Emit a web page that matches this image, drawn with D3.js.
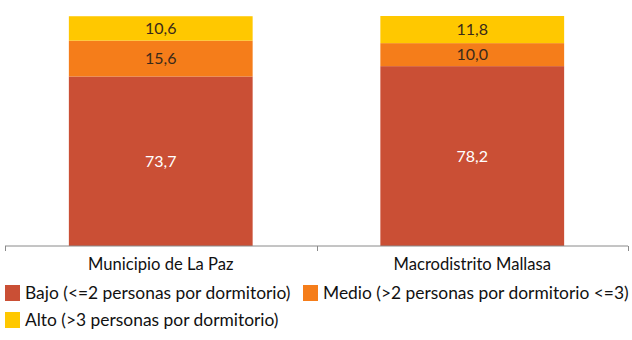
<!DOCTYPE html>
<html><head><meta charset="utf-8">
<script src="https://cdn.jsdelivr.net/npm/d3@7"></script>
<style>body{margin:0;background:#fff}svg{display:block}text{font-family:Lato,"Open Sans",sans-serif}</style>
</head><body><svg id="c" width="632" height="340"></svg>
<script>
const categories = ["Municipio de La Paz", "Macrodistrito Mallasa"];
const seriesNames = ["Bajo (<=2 personas por dormitorio)", "Medio (>2 personas por dormitorio <=3)", "Alto (>3 personas por dormitorio)"];
const bajo = [73.7, 78.2];
const medio = [15.6, 10.0];
const alto = [10.6, 11.8];
const colors = ["#CA4F35", "#F57D1A", "#FFC800"];
const textColors = ["#ffffff", "#3a2a1a", "#3a2a1a"];

const svg = d3.select("#c");
const x = d3.scaleBand().domain(categories).range([5, 628]).paddingInner(0.41).paddingOuter(0.205);
const y = d3.scaleLinear().domain([0, 100]).range([246, 16]);

const rows = categories.map((c, i) => ({cat: c, v: [bajo[i], medio[i], alto[i]]}));
const stacked = d3.stack().keys([0,1,2]).value((d, k) => d.v[k])(rows);

stacked.forEach((layer, k) => {
  const g = svg.append("g");
  g.selectAll("rect").data(layer).join("rect")
    .attr("x", d => x(d.data.cat)).attr("width", x.bandwidth())
    .attr("y", d => y(d[1])).attr("height", d => y(d[0]) - y(d[1]))
    .attr("fill", colors[k]);
  g.selectAll("text").data(layer).join("text")
    .attr("x", d => x(d.data.cat) + x.bandwidth()/2)
    .attr("y", d => (y(d[0]) + y(d[1]))/2)
    .attr("dy", "0.36em").attr("text-anchor", "middle")
    .attr("font-size", 16).attr("fill", textColors[k])
    .text(d => d3.format(".1f")(d.data.v[k]).replace(".", ","));
});

// axis
const ax = svg.append("g").attr("transform", "translate(0,246)");
ax.append("line").attr("x1", 5).attr("x2", 628).attr("stroke", "#8a8a8a").attr("stroke-width", 1);
[0,1,2].forEach(i => {
  const xx = Math.round(5 + i * (623/2)) + 0.5;
  ax.append("line").attr("x1", xx).attr("x2", xx).attr("y1", 0).attr("y2", 5).attr("stroke", "#8a8a8a");
});
ax.selectAll("text.cat").data(categories).join("text").attr("class","cat")
  .attr("x", d => x(d) + x.bandwidth()/2).attr("y", 18).attr("dy", "0.36em")
  .attr("text-anchor", "middle").attr("font-size", 16.6).attr("fill", "#111").text(d => d);

// legend
const legPos = [[5, 285], [303, 285], [5, 312]];
seriesNames.forEach((n, k) => {
  const g = svg.append("g").attr("transform", `translate(${legPos[k][0]},${legPos[k][1]})`);
  g.append("rect").attr("width", 15).attr("height", 16).attr("fill", colors[k]);
  g.append("text").attr("x", 20).attr("y", 8).attr("dy", "0.36em").attr("font-size", 17.4).attr("fill", "#111").text(n);
});
</script></body></html>
